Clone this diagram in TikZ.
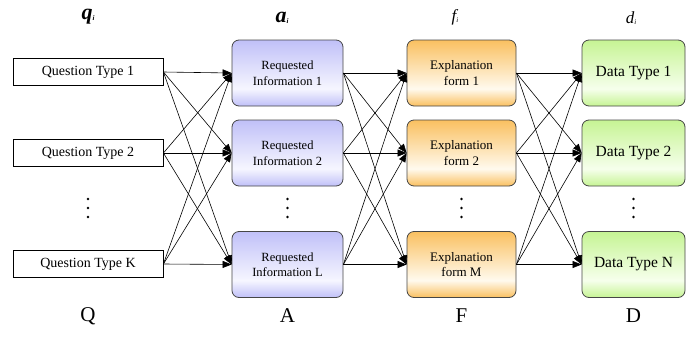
\documentclass[tikz,border=0pt]{standalone}
\usepackage{fontspec}
\setmainfont{Liberation Serif}
\usetikzlibrary{arrows.meta}

% box fills: coloured at top and bottom, pale band low in the box
\definecolor{blueC}{RGB}{192,192,248}
\definecolor{blueW}{RGB}{246,246,255}
\definecolor{orangeC}{RGB}{250,192,96}
\definecolor{orangeW}{RGB}{255,250,238}
\definecolor{greenC}{RGB}{198,244,148}
\definecolor{greenW}{RGB}{246,255,236}
\definecolor{boxline}{RGB}{70,70,70}
\pgfdeclareverticalshading{blueshade}{100bp}{color(0bp)=(blueC); color(25bp)=(blueC); color(38bp)=(blueW); color(75bp)=(blueC); color(100bp)=(blueC)}
\pgfdeclareverticalshading{orangeshade}{100bp}{color(0bp)=(orangeC); color(25bp)=(orangeC); color(38bp)=(orangeW); color(75bp)=(orangeC); color(100bp)=(orangeC)}
\pgfdeclareverticalshading{greenshade}{100bp}{color(0bp)=(greenC); color(25bp)=(greenC); color(38bp)=(greenW); color(75bp)=(greenC); color(100bp)=(greenC)}

\tikzset{
  qbox/.style={draw=black, line width=0.8pt, fill=white, minimum width=150pt, minimum height=27pt,
    inner sep=0pt, font=\fontsize{14}{16}\selectfont},
  rbox/.style={draw=boxline, line width=0.8pt, rounded corners=7pt, minimum height=66pt,
    inner sep=0pt, align=center},
  abox/.style={rbox, shading=blueshade, minimum width=111pt, font=\fontsize{12.5}{15.5}\selectfont},
  fbox/.style={rbox, shading=orangeshade, minimum width=109pt, font=\fontsize{13}{15.5}\selectfont},
  dbox/.style={rbox, shading=greenshade, minimum width=103pt, font=\fontsize{15.5}{17}\selectfont},
  arr/.style={-{Triangle[length=9pt,width=7pt]}, line width=0.6pt, black},
  head/.style={font=\fontsize{22}{22}\selectfont\bfseries\itshape},
  headlight/.style={font=\fontsize{17}{17}\selectfont\itshape},
  foot/.style={font=\fontsize{21}{21}\selectfont},
  dot/.style={circle, fill=black, inner sep=0pt, minimum size=2.6pt}
}

\begin{document}
\begin{tikzpicture}[x=1pt, y=-1pt]
\useasboundingbox (0,0) rectangle (699,338);

% column headings
\node[head] (hq) at (88,17) {q\raisebox{-1pt}{\fontsize{7}{7}\selectfont i}};
\node[head] (ha) at (282,18) {a\raisebox{-1pt}{\fontsize{7}{7}\selectfont i}};
\node[headlight] (hf) at (455,17) {f\raisebox{-1pt}{\fontsize{7}{7}\selectfont i}};
\node[headlight] (hd) at (631,18) {d\raisebox{-1pt}{\fontsize{7}{7}\selectfont i}};

% question types
\node[qbox] (q1) at (88,72) {Question Type 1};
\node[qbox] (q2) at (88,153) {Question Type 2};
\node[qbox] (q3) at (88,264) {Question Type K};

% requested information
\node[abox] (a1) at (287.5,73) {Requested\\Information 1};
\node[abox] (a2) at (287.5,153) {Requested\\Information 2};
\node[abox] (a3) at (287.5,264.5) {Requested\\Information L};

% explanation forms
\node[fbox] (f1) at (461.5,73) {Explanation\\form 1};
\node[fbox] (f2) at (461.5,153) {Explanation\\form 2};
\node[fbox] (f3) at (461.5,264.5) {Explanation\\form M};

% data types
\node[dbox] (d1) at (633.5,73) {Data Type 1};
\node[dbox] (d2) at (633.5,153) {Data Type 2};
\node[dbox] (d3) at (633.5,264.5) {Data Type N};

% elided rows: three dots under each column
\foreach \c/\x in {q/88, a/287.5, f/461.5, d/633.5}{
  \foreach \k/\y in {1/199, 2/208, 3/217}{
    \node[dot] (v\c\k) at (\x,\y) {};
  }
}

% set labels
\node[foot] (lq) at (88,316) {Q};
\node[foot] (la) at (287.5,316) {A};
\node[foot] (lf) at (461.5,316) {F};
\node[foot] (ld) at (633.5,316) {D};

% every element of one column connects to every element of the next
\foreach \s/\t in {q/a, a/f, f/d}{
  \foreach \i in {1,2,3}{
    \foreach \j in {1,2,3}{
      \draw[arr] (\s\i.east) -- (\t\j.west);
    }
  }
}
\end{tikzpicture}
\end{document}
